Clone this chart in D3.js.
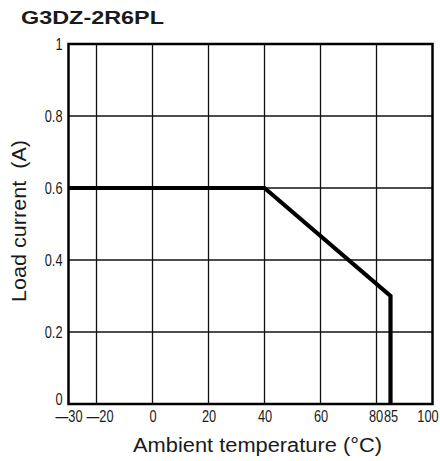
<!DOCTYPE html>
<html>
<head>
<meta charset="utf-8">
<script src="https://cdn.jsdelivr.net/npm/d3@7/dist/d3.min.js"></script>
<style>
  html, body { margin: 0; padding: 0; background: #fff; }
  svg { display: block; }
  text { font-family: "Liberation Sans", Arial, Helvetica, sans-serif; fill: #1a1a1a; }
</style>
</head>
<body>
<svg id="chart" width="440" height="461"></svg>
<script>
// ---- data ----
const chartTitle = "G3DZ-2R6PL";
const xAxisTitle = "Ambient temperature (°C)";
const yAxisTitle = "Load current  (A)";
const xTicks = [-30, -20, 0, 20, 40, 60, 80, 85, 100];
const xTickLabels = ["—30", "—20", "0", "20", "40", "60", "80", "85", "100"];
const xGridValues = [-20, 0, 20, 40, 60, 80];
const yTicks = [0, 0.2, 0.4, 0.6, 0.8, 1];
const yTickLabels = ["0", "0.2", "0.4", "0.6", "0.8", "1"];
const yGridValues = [0.2, 0.4, 0.6, 0.8];
const temperature = [-30, 40, 85, 85];
const loadCurrent = [0.6, 0.6, 0.3, 0];

// ---- layout ----
const svg = d3.select("#chart");
const mLeft = 68.5, mRight = 432.5, mTop = 44, mBottom = 404;
const x = d3.scaleLinear().domain([-30, 100]).range([mLeft, mRight]);
const y = d3.scaleLinear().domain([0, 1]).range([mBottom, mTop]);
const sx = 0.8; // condensed tick font

// title
svg.append("text")
  .attr("x", 21).attr("y", 23.5)
  .attr("font-size", 19).attr("font-weight", "bold")
  .attr("textLength", 143).attr("lengthAdjust", "spacingAndGlyphs")
  .text(chartTitle);

// grid
svg.append("g").selectAll("line").data(xGridValues).join("line")
  .attr("x1", d => x(d)).attr("x2", d => x(d))
  .attr("y1", mTop).attr("y2", mBottom)
  .attr("stroke", "#111").attr("stroke-width", 1.3);
svg.append("g").selectAll("line").data(yGridValues).join("line")
  .attr("x1", mLeft).attr("x2", mRight)
  .attr("y1", d => y(d)).attr("y2", d => y(d))
  .attr("stroke", "#111").attr("stroke-width", 1.3);

// frame
svg.append("rect")
  .attr("x", mLeft).attr("y", mTop)
  .attr("width", mRight - mLeft).attr("height", mBottom - mTop)
  .attr("fill", "none").attr("stroke", "#000").attr("stroke-width", 2.5);

// x axis
const xLabelShift = { "-20": 3, "80": -1, "85": 0, "100": -5 };
const xAxis = d3.axisBottom(x).tickValues(xTicks).tickSize(0)
  .tickFormat((d, i) => xTickLabels[i]);
const gx = svg.append("g").attr("transform", `translate(0,${mBottom})`).call(xAxis);
gx.select(".domain").remove();
gx.selectAll(".tick text")
  .attr("font-size", 16).attr("font-family", null)
  .attr("y", 18).attr("dy", 0)
  .attr("x", d => (xLabelShift[d] || 0) / sx)
  .attr("transform", `scale(${sx},1)`)
  .style("fill", "#1a1a1a");

// y axis
const yAxis = d3.axisLeft(y).tickValues(yTicks).tickSize(0)
  .tickFormat((d, i) => yTickLabels[i]);
const gy = svg.append("g").attr("transform", `translate(${mLeft},0)`).call(yAxis);
gy.select(".domain").remove();
gy.selectAll(".tick text")
  .attr("font-size", 16).attr("font-family", null)
  .attr("x", -6 / sx)
  .attr("dy", d => d === 0 ? "0.0em" : "0.35em")
  .attr("transform", `scale(${sx},1)`)
  .style("fill", "#1a1a1a");

// data line
const line = d3.line().x(d => x(d[0])).y(d => y(d[1]));
svg.append("path")
  .datum(temperature.map((t, i) => [t, loadCurrent[i]]))
  .attr("d", line)
  .attr("fill", "none").attr("stroke", "#000")
  .attr("stroke-width", 4.2).attr("stroke-linejoin", "miter");

// axis titles
svg.append("text")
  .attr("x", 257.5).attr("y", 452)
  .attr("text-anchor", "middle").attr("font-size", 20)
  .attr("textLength", 249).attr("lengthAdjust", "spacingAndGlyphs")
  .text(xAxisTitle);
svg.append("text")
  .attr("transform", "translate(26,221) rotate(-90)")
  .attr("text-anchor", "middle").attr("font-size", 20)
  .style("white-space", "pre")
  .attr("textLength", 162).attr("lengthAdjust", "spacingAndGlyphs")
  .text(yAxisTitle);
</script>
</body>
</html>
